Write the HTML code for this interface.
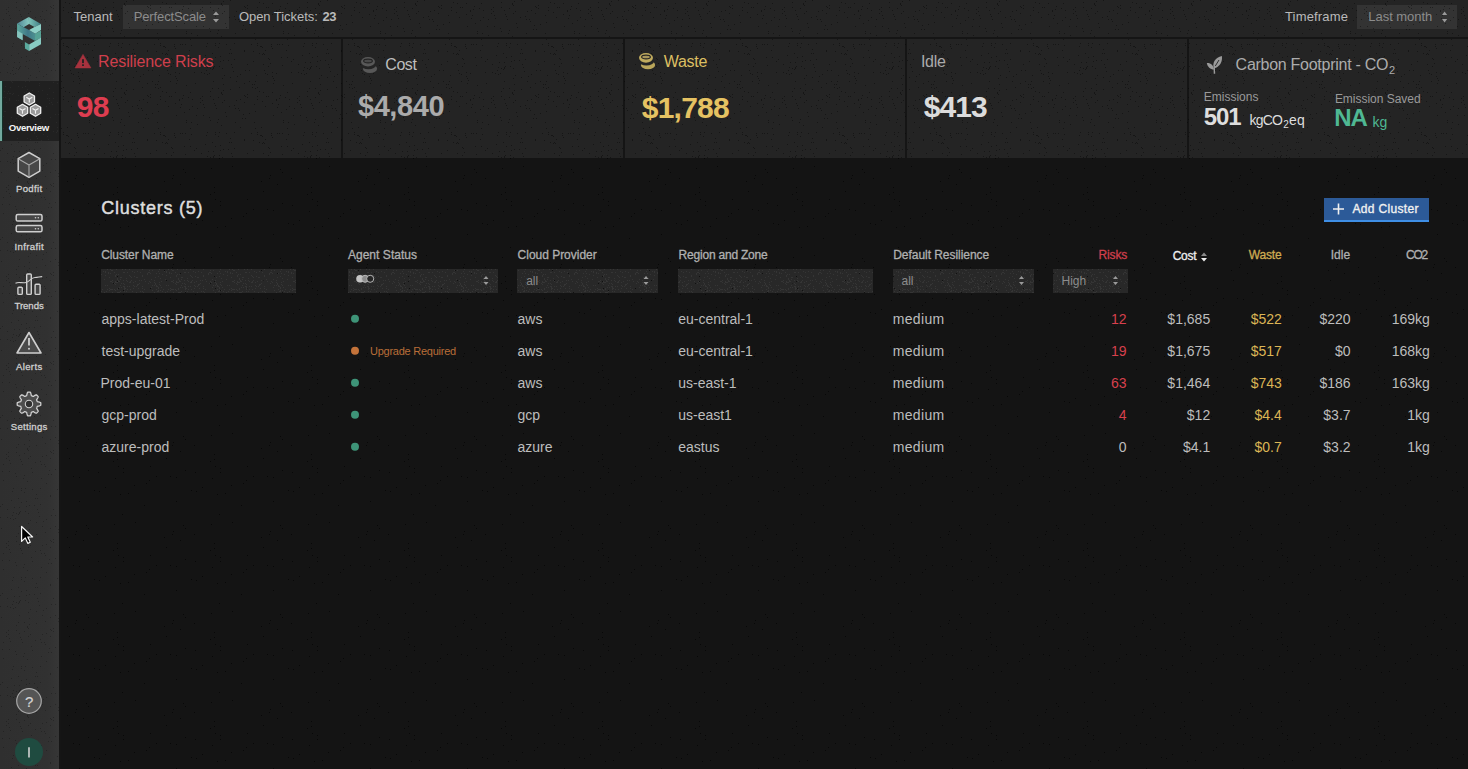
<!DOCTYPE html>
<html><head><meta charset="utf-8">
<style>
html,body{margin:0;padding:0;width:1468px;height:769px;overflow:hidden;background:#141414;font-family:"Liberation Sans",sans-serif;}
.t{position:absolute;white-space:nowrap;font-family:"Liberation Sans",sans-serif;}
.a{position:absolute;}
.side{left:0;top:0;width:59px;height:769px;background:linear-gradient(to right,#2f2f2f 0%,#313131 80%,#363636 100%);}
.sideb{left:59px;top:0;width:2px;height:769px;background:#151515;}
.top{left:61px;top:0;width:1407px;height:37px;background:#242424;}
.topb{left:61px;top:37px;width:1407px;height:2px;background:#151515;}
.card{top:39px;height:119px;background:#242424;}
.cardg{top:39px;width:2px;height:119px;background:#151515;}
.sel{background:#333333;}
.inp{background:#282828;}
</style></head><body>
<div class="a side"></div>
<div class="a sideb"></div>
<div class="a top"></div>
<div class="a topb"></div>
<div class="a card" style="left:61px;width:280px"></div>
<div class="a cardg" style="left:341px"></div>
<div class="a card" style="left:343px;width:280px"></div>
<div class="a cardg" style="left:623px"></div>
<div class="a card" style="left:625px;width:280px"></div>
<div class="a cardg" style="left:905px"></div>
<div class="a card" style="left:907px;width:280px"></div>
<div class="a cardg" style="left:1187px"></div>
<div class="a card" style="left:1189px;width:279px"></div>

<!-- top bar selects -->
<div class="a sel" style="left:123px;top:5px;width:106px;height:24px"></div>
<div class="a sel" style="left:1357px;top:5px;width:100px;height:24px"></div>

<!-- active nav -->
<div class="a" style="left:0;top:81px;width:59px;height:60px;background:#202020"></div>
<div class="a" style="left:0;top:81px;width:1.5px;height:60px;background:#72a99e"></div><div class="a" style="left:1.5px;top:81px;width:1px;height:60px;background:#123028"></div>

<!-- inputs -->
<div class="a inp" style="left:101px;top:269px;width:195px;height:24px"></div>
<div class="a inp" style="left:348px;top:269px;width:150px;height:24px"></div>
<div class="a inp" style="left:517px;top:269px;width:141px;height:24px"></div>
<div class="a inp" style="left:678px;top:269px;width:195px;height:24px"></div>
<div class="a inp" style="left:893px;top:269px;width:141px;height:24px"></div>
<div class="a inp" style="left:1053px;top:269px;width:75px;height:24px"></div>


<svg class="a" style="left:0;top:0" width="1468" height="769">
<defs>
<pattern id="nz" width="97" height="89" patternUnits="userSpaceOnUse"><path d="M41 19h1v1h-1zM50 83h1v1h-1zM6 9h1v1h-1zM68 12h1v1h-1zM46 74h1v1h-1zM7 64h1v1h-1zM27 4h1v1h-1zM11 55h1v1h-1zM53 8h1v1h-1zM30 11h1v1h-1zM70 54h1v1h-1zM7 72h1v1h-1zM15 28h1v1h-1zM80 80h1v1h-1zM74 7h1v1h-1zM73 74h1v1h-1zM50 6h1v1h-1zM28 5h1v1h-1zM71 17h1v1h-1zM37 53h1v1h-1zM18 69h1v1h-1zM15 73h1v1h-1zM39 71h1v1h-1zM87 23h1v1h-1zM13 74h1v1h-1zM73 81h1v1h-1zM24 47h1v1h-1zM12 70h1v1h-1zM91 8h1v1h-1zM72 7h1v1h-1zM79 26h1v1h-1zM63 87h1v1h-1zM68 54h1v1h-1zM40 59h1v1h-1zM74 58h1v1h-1zM46 38h1v1h-1zM31 23h1v1h-1zM89 31h1v1h-1zM10 73h1v1h-1zM38 67h1v1h-1zM63 43h1v1h-1zM93 57h1v1h-1zM36 77h1v1h-1zM9 15h1v1h-1zM65 53h1v1h-1zM21 43h1v1h-1zM19 62h1v1h-1zM53 5h1v1h-1zM85 9h1v1h-1zM71 73h1v1h-1zM40 43h1v1h-1zM88 44h1v1h-1zM76 63h1v1h-1zM74 58h1v1h-1zM8 11h1v1h-1zM34 60h1v1h-1zM89 85h1v1h-1zM8 7h1v1h-1zM93 39h1v1h-1zM82 73h1v1h-1zM87 57h1v1h-1zM36 49h1v1h-1zM85 44h1v1h-1zM2 59h1v1h-1zM45 21h1v1h-1zM78 14h1v1h-1zM63 7h1v1h-1zM27 36h1v1h-1zM16 31h1v1h-1zM50 50h1v1h-1zM63 10h1v1h-1zM21 57h1v1h-1zM51 70h1v1h-1zM35 17h1v1h-1zM55 70h1v1h-1zM35 53h1v1h-1zM45 87h1v1h-1zM48 29h1v1h-1zM19 10h1v1h-1zM22 19h1v1h-1zM29 84h1v1h-1zM29 1h1v1h-1zM62 75h1v1h-1zM23 33h1v1h-1zM36 0h1v1h-1zM18 53h1v1h-1zM68 47h1v1h-1zM78 72h1v1h-1zM40 16h1v1h-1zM88 65h1v1h-1zM79 83h1v1h-1zM86 6h1v1h-1zM58 87h1v1h-1zM71 50h1v1h-1zM50 51h1v1h-1zM50 13h1v1h-1zM61 81h1v1h-1zM51 7h1v1h-1zM24 8h1v1h-1zM26 56h1v1h-1zM20 14h1v1h-1zM43 76h1v1h-1zM6 13h1v1h-1zM0 72h1v1h-1zM19 68h1v1h-1zM12 46h1v1h-1zM78 3h1v1h-1zM9 26h1v1h-1zM78 48h1v1h-1zM19 81h1v1h-1zM32 44h1v1h-1zM77 46h1v1h-1zM60 15h1v1h-1zM14 62h1v1h-1zM59 61h1v1h-1zM61 39h1v1h-1zM10 18h1v1h-1zM13 43h1v1h-1zM94 33h1v1h-1zM61 88h1v1h-1zM20 66h1v1h-1zM2 26h1v1h-1zM67 46h1v1h-1zM18 88h1v1h-1zM69 3h1v1h-1zM67 38h1v1h-1zM82 11h1v1h-1zM89 33h1v1h-1zM66 46h1v1h-1zM21 45h1v1h-1zM28 68h1v1h-1zM69 64h1v1h-1zM42 81h1v1h-1zM28 78h1v1h-1zM24 30h1v1h-1zM51 29h1v1h-1zM25 66h1v1h-1zM63 45h1v1h-1zM93 3h1v1h-1zM3 35h1v1h-1zM60 33h1v1h-1zM24 88h1v1h-1zM77 44h1v1h-1zM57 44h1v1h-1zM46 10h1v1h-1zM28 13h1v1h-1zM29 60h1v1h-1zM25 43h1v1h-1zM26 61h1v1h-1zM79 78h1v1h-1zM0 61h1v1h-1zM83 44h1v1h-1zM82 10h1v1h-1zM84 15h1v1h-1zM49 25h1v1h-1zM61 22h1v1h-1zM55 81h1v1h-1zM42 11h1v1h-1zM92 50h1v1h-1zM59 51h1v1h-1zM95 10h1v1h-1zM92 20h1v1h-1zM21 16h1v1h-1zM3 19h1v1h-1zM75 59h1v1h-1zM83 18h1v1h-1zM78 76h1v1h-1zM60 84h1v1h-1zM44 19h1v1h-1zM70 70h1v1h-1zM16 2h1v1h-1zM1 83h1v1h-1zM13 67h1v1h-1zM95 17h1v1h-1zM55 24h1v1h-1zM27 3h1v1h-1zM32 27h1v1h-1zM37 64h1v1h-1zM30 75h1v1h-1zM41 33h1v1h-1zM69 53h1v1h-1zM16 7h1v1h-1zM94 45h1v1h-1zM58 84h1v1h-1zM74 66h1v1h-1zM53 64h1v1h-1zM16 68h1v1h-1zM19 67h1v1h-1zM65 2h1v1h-1z" fill="#000" fill-opacity="0.55"/></pattern>
<pattern id="nzl" width="97" height="89" patternUnits="userSpaceOnUse"><path d="M57 71h1v1h-1zM59 57h1v1h-1zM65 75h1v1h-1zM24 23h1v1h-1zM65 60h1v1h-1zM80 78h1v1h-1zM23 12h1v1h-1zM57 38h1v1h-1zM18 11h1v1h-1zM68 88h1v1h-1zM81 5h1v1h-1zM76 50h1v1h-1zM57 83h1v1h-1zM94 78h1v1h-1zM83 20h1v1h-1zM79 1h1v1h-1zM67 8h1v1h-1zM7 4h1v1h-1zM24 30h1v1h-1zM76 3h1v1h-1zM59 41h1v1h-1zM56 75h1v1h-1zM25 66h1v1h-1zM29 81h1v1h-1zM37 63h1v1h-1zM0 84h1v1h-1zM10 58h1v1h-1zM83 35h1v1h-1zM52 70h1v1h-1zM10 32h1v1h-1zM40 29h1v1h-1zM65 36h1v1h-1zM3 8h1v1h-1zM72 13h1v1h-1zM51 13h1v1h-1zM37 49h1v1h-1zM8 2h1v1h-1zM87 0h1v1h-1zM27 26h1v1h-1zM6 60h1v1h-1zM48 50h1v1h-1zM53 9h1v1h-1zM72 80h1v1h-1zM25 86h1v1h-1zM34 43h1v1h-1zM11 39h1v1h-1zM42 1h1v1h-1zM52 15h1v1h-1zM17 31h1v1h-1zM90 12h1v1h-1zM1 7h1v1h-1zM59 62h1v1h-1zM22 87h1v1h-1zM71 24h1v1h-1zM57 65h1v1h-1zM24 16h1v1h-1zM53 82h1v1h-1zM49 14h1v1h-1zM50 53h1v1h-1zM27 0h1v1h-1zM34 75h1v1h-1zM38 2h1v1h-1zM26 23h1v1h-1zM50 77h1v1h-1zM82 73h1v1h-1zM12 5h1v1h-1zM18 27h1v1h-1zM56 33h1v1h-1zM1 78h1v1h-1zM42 37h1v1h-1zM49 9h1v1h-1zM9 11h1v1h-1zM26 74h1v1h-1zM81 31h1v1h-1zM1 76h1v1h-1zM47 47h1v1h-1zM79 58h1v1h-1zM16 75h1v1h-1zM61 73h1v1h-1zM17 49h1v1h-1zM23 80h1v1h-1zM19 39h1v1h-1zM29 78h1v1h-1zM31 24h1v1h-1zM20 80h1v1h-1zM70 25h1v1h-1zM87 49h1v1h-1zM61 77h1v1h-1zM10 53h1v1h-1zM6 13h1v1h-1zM13 4h1v1h-1zM65 32h1v1h-1zM30 50h1v1h-1zM32 53h1v1h-1zM76 62h1v1h-1zM37 66h1v1h-1zM22 8h1v1h-1zM16 29h1v1h-1zM61 71h1v1h-1zM83 78h1v1h-1zM78 9h1v1h-1zM35 27h1v1h-1zM26 2h1v1h-1zM8 34h1v1h-1zM52 57h1v1h-1zM31 7h1v1h-1zM5 22h1v1h-1zM36 47h1v1h-1zM67 73h1v1h-1zM16 11h1v1h-1zM46 17h1v1h-1zM57 42h1v1h-1zM84 88h1v1h-1zM66 74h1v1h-1zM17 75h1v1h-1zM4 2h1v1h-1zM60 45h1v1h-1zM89 39h1v1h-1zM4 2h1v1h-1zM76 81h1v1h-1zM9 61h1v1h-1zM8 39h1v1h-1zM40 17h1v1h-1zM9 9h1v1h-1zM57 69h1v1h-1zM47 5h1v1h-1zM94 16h1v1h-1zM43 45h1v1h-1zM10 87h1v1h-1zM60 9h1v1h-1zM53 3h1v1h-1zM63 73h1v1h-1zM1 79h1v1h-1zM84 48h1v1h-1zM48 74h1v1h-1zM1 77h1v1h-1zM9 10h1v1h-1zM11 81h1v1h-1zM14 32h1v1h-1zM53 42h1v1h-1zM49 88h1v1h-1zM74 58h1v1h-1zM56 59h1v1h-1zM69 10h1v1h-1zM66 65h1v1h-1zM3 39h1v1h-1zM76 11h1v1h-1zM61 2h1v1h-1zM29 14h1v1h-1zM63 78h1v1h-1zM84 62h1v1h-1zM32 1h1v1h-1zM47 38h1v1h-1zM18 86h1v1h-1zM78 25h1v1h-1zM66 21h1v1h-1zM96 43h1v1h-1zM84 56h1v1h-1zM63 30h1v1h-1zM41 51h1v1h-1zM85 32h1v1h-1zM25 81h1v1h-1zM55 25h1v1h-1zM27 49h1v1h-1zM28 74h1v1h-1zM40 26h1v1h-1zM17 17h1v1h-1zM63 44h1v1h-1zM5 8h1v1h-1zM35 21h1v1h-1zM14 57h1v1h-1zM60 35h1v1h-1zM27 52h1v1h-1zM48 80h1v1h-1zM66 63h1v1h-1zM86 40h1v1h-1zM91 79h1v1h-1zM57 41h1v1h-1zM9 4h1v1h-1zM35 77h1v1h-1zM5 86h1v1h-1zM90 35h1v1h-1zM73 45h1v1h-1zM39 83h1v1h-1zM72 2h1v1h-1zM82 17h1v1h-1zM51 58h1v1h-1zM24 3h1v1h-1zM34 30h1v1h-1zM18 6h1v1h-1zM80 14h1v1h-1zM57 13h1v1h-1zM80 68h1v1h-1zM83 81h1v1h-1zM47 9h1v1h-1zM87 25h1v1h-1zM25 60h1v1h-1zM32 22h1v1h-1zM91 1h1v1h-1zM96 60h1v1h-1zM68 4h1v1h-1zM22 28h1v1h-1zM34 44h1v1h-1zM69 66h1v1h-1zM64 78h1v1h-1zM96 20h1v1h-1zM50 28h1v1h-1zM11 52h1v1h-1zM92 49h1v1h-1zM16 57h1v1h-1zM58 25h1v1h-1zM80 0h1v1h-1zM48 70h1v1h-1zM72 83h1v1h-1zM64 43h1v1h-1zM59 41h1v1h-1zM83 26h1v1h-1zM12 82h1v1h-1zM91 15h1v1h-1zM27 31h1v1h-1zM49 11h1v1h-1zM39 68h1v1h-1zM41 33h1v1h-1zM91 2h1v1h-1zM44 64h1v1h-1zM10 4h1v1h-1zM56 43h1v1h-1zM70 53h1v1h-1zM35 62h1v1h-1zM3 27h1v1h-1zM8 54h1v1h-1zM4 22h1v1h-1zM68 42h1v1h-1zM87 17h1v1h-1zM60 19h1v1h-1zM66 66h1v1h-1zM86 88h1v1h-1zM56 63h1v1h-1zM74 88h1v1h-1zM11 28h1v1h-1zM56 67h1v1h-1zM71 37h1v1h-1zM93 71h1v1h-1zM81 21h1v1h-1zM66 65h1v1h-1zM71 32h1v1h-1zM39 85h1v1h-1zM48 78h1v1h-1zM26 38h1v1h-1zM18 69h1v1h-1zM67 34h1v1h-1zM73 63h1v1h-1zM25 52h1v1h-1zM68 14h1v1h-1zM64 0h1v1h-1zM77 48h1v1h-1zM3 68h1v1h-1zM5 66h1v1h-1z" fill="#fff" fill-opacity="0.07"/></pattern>
<pattern id="nzs" width="97" height="89" patternUnits="userSpaceOnUse"><path d="M79 32h1v1h-1zM94 45h1v1h-1zM88 83h1v1h-1zM67 3h1v1h-1zM59 31h1v1h-1zM83 6h1v1h-1zM20 14h1v1h-1zM47 60h1v1h-1zM31 48h1v1h-1zM69 13h1v1h-1zM73 31h1v1h-1zM1 27h1v1h-1zM52 35h1v1h-1zM23 49h1v1h-1zM20 9h1v1h-1zM17 79h1v1h-1zM79 56h1v1h-1zM16 16h1v1h-1zM0 0h1v1h-1zM26 27h1v1h-1zM21 21h1v1h-1zM37 40h1v1h-1zM25 69h1v1h-1zM86 80h1v1h-1zM26 23h1v1h-1zM88 25h1v1h-1zM49 38h1v1h-1zM2 46h1v1h-1zM53 21h1v1h-1zM18 33h1v1h-1zM8 42h1v1h-1zM38 77h1v1h-1zM75 0h1v1h-1zM76 86h1v1h-1z" fill="#000" fill-opacity="0.6"/></pattern>
<pattern id="nzi" width="61" height="53" patternUnits="userSpaceOnUse"><path d="M15 37h1v1h-1zM34 8h1v1h-1zM23 38h1v1h-1zM30 40h1v1h-1zM37 4h1v1h-1zM38 0h1v1h-1zM58 30h1v1h-1zM16 35h1v1h-1zM14 12h1v1h-1zM45 30h1v1h-1zM34 35h1v1h-1zM30 25h1v1h-1zM40 9h1v1h-1zM14 40h1v1h-1zM9 33h1v1h-1zM24 47h1v1h-1zM0 42h1v1h-1zM49 4h1v1h-1zM10 48h1v1h-1zM37 2h1v1h-1zM19 49h1v1h-1zM1 52h1v1h-1zM55 17h1v1h-1zM30 38h1v1h-1zM46 24h1v1h-1zM45 50h1v1h-1zM58 27h1v1h-1zM25 46h1v1h-1zM51 36h1v1h-1zM28 8h1v1h-1zM56 23h1v1h-1zM6 2h1v1h-1zM8 31h1v1h-1zM13 16h1v1h-1zM43 27h1v1h-1zM49 40h1v1h-1zM54 19h1v1h-1zM26 32h1v1h-1zM53 24h1v1h-1zM36 22h1v1h-1zM34 37h1v1h-1zM26 37h1v1h-1zM14 21h1v1h-1zM43 1h1v1h-1zM54 17h1v1h-1zM38 42h1v1h-1zM44 10h1v1h-1zM44 20h1v1h-1zM34 36h1v1h-1zM36 6h1v1h-1zM45 41h1v1h-1zM13 40h1v1h-1zM53 36h1v1h-1zM17 18h1v1h-1zM7 4h1v1h-1zM30 40h1v1h-1zM30 5h1v1h-1zM22 51h1v1h-1zM4 26h1v1h-1zM57 9h1v1h-1zM1 18h1v1h-1zM27 49h1v1h-1zM26 7h1v1h-1zM2 38h1v1h-1zM39 48h1v1h-1zM2 24h1v1h-1zM45 37h1v1h-1zM21 35h1v1h-1zM56 17h1v1h-1zM32 15h1v1h-1zM2 19h1v1h-1zM0 4h1v1h-1zM6 38h1v1h-1zM34 2h1v1h-1zM60 12h1v1h-1zM26 18h1v1h-1zM39 16h1v1h-1zM9 44h1v1h-1zM2 21h1v1h-1zM20 23h1v1h-1zM8 24h1v1h-1zM24 29h1v1h-1zM55 33h1v1h-1zM24 41h1v1h-1zM55 38h1v1h-1zM43 35h1v1h-1zM6 39h1v1h-1zM60 51h1v1h-1zM32 17h1v1h-1zM27 40h1v1h-1zM46 45h1v1h-1zM15 19h1v1h-1zM27 16h1v1h-1zM33 19h1v1h-1zM35 21h1v1h-1zM0 50h1v1h-1zM26 37h1v1h-1zM20 1h1v1h-1zM24 39h1v1h-1zM37 40h1v1h-1zM8 3h1v1h-1zM40 40h1v1h-1zM21 29h1v1h-1zM22 43h1v1h-1zM58 22h1v1h-1zM38 45h1v1h-1zM17 47h1v1h-1zM31 1h1v1h-1zM37 3h1v1h-1zM43 1h1v1h-1zM23 16h1v1h-1zM40 29h1v1h-1zM19 37h1v1h-1zM38 20h1v1h-1zM11 23h1v1h-1zM11 20h1v1h-1zM48 23h1v1h-1zM54 38h1v1h-1zM16 19h1v1h-1zM50 24h1v1h-1zM6 49h1v1h-1zM52 1h1v1h-1zM36 43h1v1h-1zM47 8h1v1h-1zM19 32h1v1h-1zM14 41h1v1h-1zM51 17h1v1h-1zM15 20h1v1h-1zM11 43h1v1h-1zM27 41h1v1h-1zM44 6h1v1h-1zM6 38h1v1h-1zM20 21h1v1h-1zM43 14h1v1h-1zM28 51h1v1h-1zM54 10h1v1h-1zM5 21h1v1h-1zM47 41h1v1h-1zM13 36h1v1h-1zM28 17h1v1h-1zM14 50h1v1h-1zM7 2h1v1h-1zM33 12h1v1h-1zM20 51h1v1h-1zM53 36h1v1h-1zM11 17h1v1h-1zM21 51h1v1h-1zM52 41h1v1h-1zM5 51h1v1h-1zM39 22h1v1h-1zM37 8h1v1h-1zM26 18h1v1h-1zM33 50h1v1h-1zM54 17h1v1h-1zM29 22h1v1h-1zM40 26h1v1h-1zM18 26h1v1h-1zM36 26h1v1h-1zM2 26h1v1h-1zM9 12h1v1h-1zM0 30h1v1h-1zM60 39h1v1h-1zM32 27h1v1h-1zM35 45h1v1h-1zM14 2h1v1h-1zM47 29h1v1h-1zM53 48h1v1h-1zM42 47h1v1h-1zM33 18h1v1h-1zM34 21h1v1h-1zM56 14h1v1h-1zM55 4h1v1h-1zM54 37h1v1h-1zM18 7h1v1h-1zM51 15h1v1h-1zM2 2h1v1h-1zM57 51h1v1h-1zM44 32h1v1h-1zM59 12h1v1h-1zM57 27h1v1h-1zM36 3h1v1h-1zM0 30h1v1h-1zM47 7h1v1h-1zM10 32h1v1h-1zM19 15h1v1h-1zM42 1h1v1h-1zM33 34h1v1h-1zM26 3h1v1h-1zM60 39h1v1h-1zM7 21h1v1h-1zM8 16h1v1h-1zM55 34h1v1h-1zM30 51h1v1h-1zM50 3h1v1h-1zM22 14h1v1h-1zM12 7h1v1h-1zM34 52h1v1h-1zM7 10h1v1h-1zM15 50h1v1h-1zM17 51h1v1h-1zM8 52h1v1h-1zM58 0h1v1h-1zM31 40h1v1h-1zM36 25h1v1h-1zM3 48h1v1h-1zM17 15h1v1h-1zM17 39h1v1h-1zM33 33h1v1h-1zM27 3h1v1h-1zM30 20h1v1h-1zM49 52h1v1h-1zM0 3h1v1h-1zM49 8h1v1h-1zM2 7h1v1h-1zM3 4h1v1h-1zM30 2h1v1h-1zM54 45h1v1h-1zM5 32h1v1h-1zM32 31h1v1h-1zM20 10h1v1h-1zM20 4h1v1h-1zM22 24h1v1h-1zM41 24h1v1h-1zM37 19h1v1h-1zM23 16h1v1h-1zM12 21h1v1h-1zM27 7h1v1h-1zM8 35h1v1h-1zM0 45h1v1h-1zM46 24h1v1h-1zM50 5h1v1h-1zM36 11h1v1h-1zM2 23h1v1h-1zM29 38h1v1h-1zM41 50h1v1h-1zM34 24h1v1h-1zM40 51h1v1h-1zM2 39h1v1h-1zM56 27h1v1h-1zM3 23h1v1h-1zM40 31h1v1h-1zM48 44h1v1h-1zM20 26h1v1h-1zM60 44h1v1h-1zM26 29h1v1h-1zM1 15h1v1h-1zM13 34h1v1h-1zM17 44h1v1h-1zM37 4h1v1h-1zM51 27h1v1h-1zM14 27h1v1h-1zM8 1h1v1h-1zM59 20h1v1h-1zM23 35h1v1h-1zM50 16h1v1h-1zM7 29h1v1h-1zM44 7h1v1h-1zM60 52h1v1h-1zM46 42h1v1h-1zM54 33h1v1h-1zM50 24h1v1h-1zM42 6h1v1h-1zM46 20h1v1h-1zM36 34h1v1h-1zM6 51h1v1h-1zM37 45h1v1h-1zM0 30h1v1h-1zM9 15h1v1h-1zM49 24h1v1h-1zM2 33h1v1h-1zM5 36h1v1h-1zM6 42h1v1h-1zM56 24h1v1h-1zM11 52h1v1h-1zM1 21h1v1h-1zM53 7h1v1h-1zM1 7h1v1h-1zM43 30h1v1h-1zM53 44h1v1h-1zM60 18h1v1h-1zM37 19h1v1h-1zM51 5h1v1h-1zM2 49h1v1h-1zM36 32h1v1h-1zM33 45h1v1h-1zM15 6h1v1h-1zM35 47h1v1h-1zM6 35h1v1h-1zM3 35h1v1h-1zM20 36h1v1h-1zM11 52h1v1h-1zM4 15h1v1h-1zM11 41h1v1h-1zM15 29h1v1h-1zM39 44h1v1h-1zM48 25h1v1h-1zM16 23h1v1h-1zM38 25h1v1h-1zM60 22h1v1h-1zM35 26h1v1h-1zM5 24h1v1h-1zM32 15h1v1h-1zM59 26h1v1h-1zM53 47h1v1h-1zM10 26h1v1h-1zM44 36h1v1h-1zM48 37h1v1h-1zM43 33h1v1h-1zM43 30h1v1h-1zM9 41h1v1h-1zM25 9h1v1h-1zM10 6h1v1h-1zM31 47h1v1h-1zM30 44h1v1h-1zM33 28h1v1h-1zM37 46h1v1h-1zM54 11h1v1h-1zM8 17h1v1h-1zM48 12h1v1h-1zM9 37h1v1h-1zM32 20h1v1h-1zM59 14h1v1h-1zM54 44h1v1h-1zM34 49h1v1h-1zM18 42h1v1h-1zM45 26h1v1h-1zM38 37h1v1h-1zM37 17h1v1h-1zM56 13h1v1h-1zM19 1h1v1h-1zM17 30h1v1h-1zM51 24h1v1h-1zM12 11h1v1h-1zM36 23h1v1h-1zM15 20h1v1h-1zM30 49h1v1h-1zM55 9h1v1h-1zM26 44h1v1h-1zM30 44h1v1h-1zM38 13h1v1h-1zM29 37h1v1h-1zM53 52h1v1h-1zM41 35h1v1h-1zM1 30h1v1h-1zM46 4h1v1h-1zM54 25h1v1h-1zM50 46h1v1h-1zM56 2h1v1h-1zM29 14h1v1h-1zM57 15h1v1h-1zM41 45h1v1h-1zM49 43h1v1h-1zM4 13h1v1h-1zM54 16h1v1h-1zM15 12h1v1h-1zM49 16h1v1h-1zM8 11h1v1h-1zM39 45h1v1h-1zM43 2h1v1h-1zM57 16h1v1h-1zM10 2h1v1h-1zM20 11h1v1h-1zM27 5h1v1h-1zM46 51h1v1h-1zM5 7h1v1h-1zM5 16h1v1h-1zM53 18h1v1h-1zM2 22h1v1h-1zM28 37h1v1h-1zM46 43h1v1h-1zM21 0h1v1h-1zM1 21h1v1h-1zM21 27h1v1h-1zM24 31h1v1h-1zM4 13h1v1h-1zM41 37h1v1h-1zM47 31h1v1h-1zM25 8h1v1h-1zM34 20h1v1h-1zM7 17h1v1h-1zM4 42h1v1h-1zM27 7h1v1h-1zM28 33h1v1h-1zM58 16h1v1h-1zM6 33h1v1h-1zM60 44h1v1h-1zM23 43h1v1h-1z" fill="#fff" fill-opacity="0.06"/></pattern>
</defs>
<rect x="0" y="0" width="59" height="81" fill="url(#nz)" opacity="0.45"/>
<rect x="0" y="141" width="59" height="628" fill="url(#nz)" opacity="0.45"/>
<rect x="2" y="81" width="57" height="60" fill="url(#nzl)" opacity="0.6"/>
<rect x="61" y="0" width="1407" height="37" fill="url(#nz)" opacity="0.7"/>
<rect x="61" y="39" width="1407" height="119" fill="url(#nz)" opacity="0.7"/>
<rect x="61" y="158" width="1407" height="611" fill="url(#nzs)"/>
<g fill="url(#nzi)">
<rect x="101" y="269" width="195" height="24"/><rect x="348" y="269" width="150" height="24"/><rect x="517" y="269" width="141" height="24"/>
<rect x="678" y="269" width="195" height="24"/><rect x="893" y="269" width="141" height="24"/><rect x="1053" y="269" width="75" height="24"/>
</g>
</svg>
<div class="a" style="left:1324px;top:198px;width:105px;height:22px;background:#2c5a98;border-bottom:2px solid #3f8fe6"></div>
<svg class="a" style="left:0;top:0" width="1468" height="769">
  <!-- logo -->
  <defs>
    <linearGradient id="spg" x1="0" y1="0" x2="1" y2="0">
      <stop offset="0" stop-color="#5ca99e"/><stop offset="0.45" stop-color="#3f7887"/><stop offset="1" stop-color="#58a598"/>
    </linearGradient>
    <linearGradient id="tlg" x1="0" y1="0" x2="1" y2="0">
      <stop offset="0" stop-color="#4f8595"/><stop offset="1" stop-color="#86c8bf"/>
    </linearGradient>
    <linearGradient id="trg" x1="0" y1="0" x2="1" y2="0">
      <stop offset="0" stop-color="#7dc3b9"/><stop offset="1" stop-color="#3f7d84"/>
    </linearGradient>
  </defs>
  <g>
    <polygon points="17.1,23.6 28.8,17.1 29.1,23.9 23.6,27.3" fill="url(#tlg)"/>
    <polygon points="28.8,17.1 41,23.9 34.5,27 29.1,23.9" fill="url(#trg)"/>
    <polygon points="17.1,23.6 23.6,27.3 29.1,30.1 35.3,33.8 41,30.8 41,37.4 34.8,40.8 22.6,34 22.6,40.3 17.1,37.1" fill="url(#spg)"/>
    <polygon points="17.1,30.6 22.6,33.8 22.6,40.3 17.1,37.1" fill="#86c4bd"/>
    <polygon points="34.5,27 41,23.9 41,30.1 35.3,33.8 29.1,30.1" fill="#8ccfc6"/>
    <polygon points="35.3,33.8 41,30.6 41,37.4 34.8,40.8" fill="#56a295"/>
    <polygon points="24.9,42.1 29.1,44.6 29.1,50.9 24.9,48.6" fill="#5aa99d"/>
    <polygon points="29.1,44.6 41,37.6 41,44.2 29.1,50.9" fill="#88cbc2"/>
  </g>
  <!-- overview icon -->
  <g stroke="#f0f0f0" stroke-width="1.3" fill="#9a9a9a" stroke-linejoin="round">
    <path d="M29.3 93 L34.5 96 L34.5 102 L29.3 105 L24.1 102 L24.1 96 Z"/>
    <path d="M22.5 104.3 L27.7 107.3 L27.7 113.3 L22.5 116.3 L17.3 113.3 L17.3 107.3 Z"/>
    <path d="M35.5 104.3 L40.7 107.3 L40.7 113.3 L35.5 116.3 L30.3 113.3 L30.3 107.3 Z"/>
  </g>
  <g stroke="#f0f0f0" stroke-width="1.1" fill="none">
    <path d="M26.3 97.3 L29.3 99 L32.3 97.3 M29.3 99 V102.5"/>
    <path d="M19.5 108.6 L22.5 110.3 L25.5 108.6 M22.5 110.3 V113.8"/>
    <path d="M32.5 108.6 L35.5 110.3 L38.5 108.6 M35.5 110.3 V113.8"/>
  </g>
  <!-- podfit cube -->
  <g stroke="#cfcfcf" stroke-width="1.5" stroke-linejoin="round">
    <path d="M29 152.5 L39.8 158.7 L39.8 171.1 L29 177.3 L18.2 171.1 L18.2 158.7 Z" fill="#474747"/>
    <path d="M18.6 159 L29 165 L39.4 159 M29 165 V176.8" fill="none" stroke-width="1.1" stroke="#a8a8a8"/>
  </g>
  <!-- infrafit servers -->
  <g stroke="#cfcfcf" stroke-width="1.5" fill="#464646">
    <rect x="16.2" y="214.4" width="25.8" height="6.6" rx="1.6"/>
    <rect x="16.2" y="225.6" width="25.8" height="6.2" rx="1.6"/>
  </g>
  <g fill="#cfcfcf">
    <circle cx="35.5" cy="217.7" r="0.8"/><circle cx="38.3" cy="217.7" r="0.8"/>
    <circle cx="35.5" cy="228.7" r="0.8"/><circle cx="38.3" cy="228.7" r="0.8"/>
  </g>
  <!-- trends -->
  <g stroke="#cfcfcf" stroke-width="1.4" fill="#464646">
    <rect x="17.9" y="287.2" width="4.4" height="7.2" rx="1"/>
    <rect x="26.7" y="274" width="4.6" height="20.4" rx="1"/>
    <rect x="35.1" y="284.3" width="5" height="10.1" rx="1"/>
  </g>
  <path d="M15.5 283.2 C19 281.5, 22 283.5, 26 282.5 C30 281.5, 31 277.5, 35 277.5 C38 277.5, 40 276.5, 42.2 276.6" stroke="#cfcfcf" stroke-width="1.1" fill="none"/>
  <!-- alerts -->
  <path d="M29 332.5 L41 353 L17 353 Z" fill="#4a4a4a" stroke="#cfcfcf" stroke-width="1.6" stroke-linejoin="round"/>
  <path d="M29 338 V345.5" stroke="#cfcfcf" stroke-width="1.8"/>
  <circle cx="29" cy="348.8" r="1" fill="#cfcfcf"/>
  <!-- settings gear -->
  <path d="M40.80 404.00 L40.80 404.31 L40.78 404.62 L40.76 404.93 L40.74 405.23 L40.46 405.51 L39.90 405.73 L39.31 405.91 L38.70 406.06 L38.10 406.18 L37.54 406.29 L37.25 406.44 L37.18 406.66 L37.11 406.87 L37.03 407.08 L36.95 407.29 L36.86 407.50 L36.76 407.70 L36.66 407.90 L36.56 408.10 L36.66 408.42 L36.98 408.89 L37.32 409.40 L37.64 409.94 L37.93 410.49 L38.17 411.04 L38.17 411.43 L37.97 411.66 L37.77 411.90 L37.56 412.12 L37.34 412.34 L37.12 412.56 L36.90 412.77 L36.66 412.97 L36.43 413.17 L36.04 413.17 L35.49 412.93 L34.94 412.64 L34.40 412.32 L33.89 411.98 L33.42 411.66 L33.10 411.56 L32.90 411.66 L32.70 411.76 L32.50 411.86 L32.29 411.95 L32.08 412.03 L31.87 412.11 L31.66 412.18 L31.44 412.25 L31.29 412.54 L31.18 413.10 L31.06 413.70 L30.91 414.31 L30.73 414.90 L30.51 415.46 L30.23 415.74 L29.93 415.76 L29.62 415.78 L29.31 415.80 L29.00 415.80 L28.69 415.80 L28.38 415.78 L28.07 415.76 L27.77 415.74 L27.49 415.46 L27.27 414.90 L27.09 414.31 L26.94 413.70 L26.82 413.10 L26.71 412.54 L26.56 412.25 L26.34 412.18 L26.13 412.11 L25.92 412.03 L25.71 411.95 L25.50 411.86 L25.30 411.76 L25.10 411.66 L24.90 411.56 L24.58 411.66 L24.11 411.98 L23.60 412.32 L23.06 412.64 L22.51 412.93 L21.96 413.17 L21.57 413.17 L21.34 412.97 L21.10 412.77 L20.88 412.56 L20.66 412.34 L20.44 412.12 L20.23 411.90 L20.03 411.66 L19.83 411.43 L19.83 411.04 L20.07 410.49 L20.36 409.94 L20.68 409.40 L21.02 408.89 L21.34 408.42 L21.44 408.10 L21.34 407.90 L21.24 407.70 L21.14 407.50 L21.05 407.29 L20.97 407.08 L20.89 406.87 L20.82 406.66 L20.75 406.44 L20.46 406.29 L19.90 406.18 L19.30 406.06 L18.69 405.91 L18.10 405.73 L17.54 405.51 L17.26 405.23 L17.24 404.93 L17.22 404.62 L17.20 404.31 L17.20 404.00 L17.20 403.69 L17.22 403.38 L17.24 403.07 L17.26 402.77 L17.54 402.49 L18.10 402.27 L18.69 402.09 L19.30 401.94 L19.90 401.82 L20.46 401.71 L20.75 401.56 L20.82 401.34 L20.89 401.13 L20.97 400.92 L21.05 400.71 L21.14 400.50 L21.24 400.30 L21.34 400.10 L21.44 399.90 L21.34 399.58 L21.02 399.11 L20.68 398.60 L20.36 398.06 L20.07 397.51 L19.83 396.96 L19.83 396.57 L20.03 396.34 L20.23 396.10 L20.44 395.88 L20.66 395.66 L20.88 395.44 L21.10 395.23 L21.34 395.03 L21.57 394.83 L21.96 394.83 L22.51 395.07 L23.06 395.36 L23.60 395.68 L24.11 396.02 L24.58 396.34 L24.90 396.44 L25.10 396.34 L25.30 396.24 L25.50 396.14 L25.71 396.05 L25.92 395.97 L26.13 395.89 L26.34 395.82 L26.56 395.75 L26.71 395.46 L26.82 394.90 L26.94 394.30 L27.09 393.69 L27.27 393.10 L27.49 392.54 L27.77 392.26 L28.07 392.24 L28.38 392.22 L28.69 392.20 L29.00 392.20 L29.31 392.20 L29.62 392.22 L29.93 392.24 L30.23 392.26 L30.51 392.54 L30.73 393.10 L30.91 393.69 L31.06 394.30 L31.18 394.90 L31.29 395.46 L31.44 395.75 L31.66 395.82 L31.87 395.89 L32.08 395.97 L32.29 396.05 L32.50 396.14 L32.70 396.24 L32.90 396.34 L33.10 396.44 L33.42 396.34 L33.89 396.02 L34.40 395.68 L34.94 395.36 L35.49 395.07 L36.04 394.83 L36.43 394.83 L36.66 395.03 L36.90 395.23 L37.12 395.44 L37.34 395.66 L37.56 395.88 L37.77 396.10 L37.97 396.34 L38.17 396.57 L38.17 396.96 L37.93 397.51 L37.64 398.06 L37.32 398.60 L36.98 399.11 L36.66 399.58 L36.56 399.90 L36.66 400.10 L36.76 400.30 L36.86 400.50 L36.95 400.71 L37.03 400.92 L37.11 401.13 L37.18 401.34 L37.25 401.56 L37.54 401.71 L38.10 401.82 L38.70 401.94 L39.31 402.09 L39.90 402.27 L40.46 402.49 L40.74 402.77 L40.76 403.07 L40.78 403.38 L40.80 403.69 Z" fill="#4d4d4d" stroke="#d0d0d0" stroke-width="1.3" stroke-linejoin="round"/>
  <circle cx="29" cy="404" r="3.7" fill="#303030" stroke="#d0d0d0" stroke-width="1.1"/>
  <!-- help -->
  <circle cx="29" cy="701" r="12.3" fill="#555555" stroke="#a6a6a6" stroke-width="1.2"/>
  <!-- avatar -->
  <circle cx="29" cy="752" r="14" fill="#1f4b40"/>
  <path d="M29 747.3 V757.6" stroke="#d2d2d2" stroke-width="1.6"/>
  <!-- cursor -->
  <path d="M21.6 526.5 L21.6 541.4 L25.3 537.9 L27.9 543.4 L30.3 542.3 L27.8 537 L32.6 537 Z" fill="#000" stroke="#f4f4f4" stroke-width="1.2" stroke-linejoin="round"/>
  <!-- warning triangle -->
  <path d="M83 54.4 L90.9 67.9 L75.1 67.9 Z" fill="#a8323e" stroke="#a8323e" stroke-width="0.6" stroke-linejoin="round"/>
  <rect x="82.1" y="59.2" width="1.8" height="3.9" fill="#222"/>
  <rect x="82.1" y="64.3" width="1.8" height="1.7" fill="#222"/>
  <!-- cost coins -->
  <g transform="translate(361,57)">
    <ellipse cx="9" cy="11.7" rx="7.1" ry="4.4" fill="#585858"/>
    <ellipse cx="7.4" cy="8.0" rx="7.6" ry="4.3" fill="#242424"/>
    <ellipse cx="7" cy="4.7" rx="7" ry="4.7" fill="#585858"/>
    <ellipse cx="7" cy="4" rx="4.4" ry="1.9" fill="#4a4a4a" stroke="#242424" stroke-width="1.1"/>
  </g>
  <g transform="translate(639,53)">
    <ellipse cx="9" cy="11.9" rx="7.1" ry="4.4" fill="#b9a55a"/>
    <ellipse cx="7.4" cy="8.2" rx="7.6" ry="4.3" fill="#242424"/>
    <ellipse cx="7" cy="4.85" rx="7" ry="4.85" fill="#c0ab5e"/>
    <ellipse cx="7" cy="4" rx="4.4" ry="1.9" fill="#a8965a" stroke="#242424" stroke-width="1.1"/>
  </g>
  <!-- leaf -->
  <g fill="#9a9a9a">
    <path d="M1213.6 67.8 C1212.4 62.2, 1215.2 57.4, 1221.9 55.9 C1222.6 61.3, 1220.2 66.2, 1214.6 68.2 Z"/>
    <path d="M1206.8 63.1 C1210.6 62.8, 1213.6 65.2, 1214 69.6 C1210.2 69.6, 1207.6 67.2, 1206.8 63.1 Z"/>
    <path d="M1213.6 67.5 L1213.7 73.8 L1215.2 73.8 L1214.9 67.5 Z"/>
  </g>
  <path d="M1215.3 66 L1219 60" stroke="#222" stroke-width="0.9"/>

  <!-- select arrows -->
  <g fill="#9a9a9a">
    <path d="M213 15 L216 11.5 L219 15 Z M213 19 L216 22.5 L219 19 Z"/>
    <path d="M1442 15 L1444.6 11.5 L1447.2 15 Z M1442 19 L1444.6 22.5 L1447.2 19 Z"/>
    <path d="M483.5 279 L486 276 L488.5 279 Z M483.5 282 L486 285 L488.5 282 Z"/>
    <path d="M643.5 279 L646 276 L648.5 279 Z M643.5 282 L646 285 L648.5 282 Z"/>
    <path d="M1019 279 L1021.5 276 L1024 279 Z M1019 282 L1021.5 285 L1024 282 Z"/>
    <path d="M1113 279 L1115.5 276 L1118 279 Z M1113 282 L1115.5 285 L1118 282 Z"/>
  </g>
  <!-- cost sort arrows -->
  <path d="M1201 256 L1204 252.5 L1207 256 Z" fill="#8a8a8a"/><path d="M1201 258 L1204 261.5 L1207 258 Z" fill="#efefef"/>
  <!-- agent status circles -->
  <circle cx="360" cy="278.8" r="3.8" fill="#c4c4c4"/>
  <circle cx="365.1" cy="278.8" r="3.55" fill="#8c8c8c" stroke="#c4c4c4" stroke-width="0.9"/>
  <circle cx="370.2" cy="278.8" r="3.55" fill="#262626" stroke="#c4c4c4" stroke-width="0.9"/>
  <!-- plus in button -->
  <path d="M1338.5 203.5 V214.5 M1333 209 H1344" stroke="#f0f0f0" stroke-width="1.6"/>
  <!-- status dots -->
  <g fill="#3e9478">
    <circle cx="355" cy="318.7" r="4"/>
    <circle cx="355" cy="382.7" r="4"/>
    <circle cx="355" cy="414.7" r="4"/>
    <circle cx="355" cy="446.7" r="4"/>
  </g>
  <circle cx="355" cy="350.7" r="4" fill="#c4733a"/>
</svg>
<div class="t" style="left:73.40px;top:10.25px;font-size:13px;line-height:13px;font-weight:400;color:#bababa;letter-spacing:0.036px;">Tenant</div>
<div class="t" style="left:133.70px;top:10.25px;font-size:13px;line-height:13px;font-weight:400;color:#8c8c8c;letter-spacing:-0.125px;">PerfectScale</div>
<div class="t" style="left:238.90px;top:10.25px;font-size:13px;line-height:13px;font-weight:400;color:#bababa;letter-spacing:-0.050px;">Open Tickets:</div>
<div class="t" style="left:322.50px;top:10.25px;font-size:13px;line-height:13px;font-weight:700;color:#bababa;letter-spacing:-0.430px;">23</div>
<div class="t" style="left:1285.00px;top:10.15px;font-size:13px;line-height:13px;font-weight:400;color:#bababa;letter-spacing:0.162px;">Timeframe</div>
<div class="t" style="left:1368.30px;top:10.15px;font-size:13px;line-height:13px;font-weight:400;color:#8c8c8c;letter-spacing:-0.032px;">Last month</div>
<div class="t" style="left:98.10px;top:54.40px;font-size:16px;line-height:16px;font-weight:400;color:#cf3f4c;letter-spacing:-0.124px;">Resilience Risks</div>
<div class="t" style="left:76.80px;top:92.30px;font-size:30px;line-height:30px;font-weight:700;color:#dd3d50;letter-spacing:-0.785px;">98</div>
<div class="t" style="left:385.30px;top:56.90px;font-size:16px;line-height:16px;font-weight:400;color:#bdbdbd;letter-spacing:-0.451px;">Cost</div>
<div class="t" style="left:357.90px;top:91.55px;font-size:29px;line-height:29px;font-weight:700;color:#ababab;letter-spacing:-0.394px;">$4,840</div>
<div class="t" style="left:663.70px;top:54.40px;font-size:16px;line-height:16px;font-weight:400;color:#dcbf62;letter-spacing:-0.288px;">Waste</div>
<div class="t" style="left:641.80px;top:93.30px;font-size:30px;line-height:30px;font-weight:700;color:#e5c262;letter-spacing:-0.775px;">$1,788</div>
<div class="t" style="left:920.90px;top:54.40px;font-size:16px;line-height:16px;font-weight:400;color:#ababab;letter-spacing:-0.233px;">Idle</div>
<div class="t" style="left:923.80px;top:92.30px;font-size:30px;line-height:30px;font-weight:700;color:#dcdcdc;letter-spacing:-0.918px;">$413</div>
<div class="t" style="left:1203.80px;top:90.60px;font-size:12px;line-height:12px;font-weight:400;color:#9a9a9a;letter-spacing:-0.010px;">Emissions</div>
<div class="t" style="left:1203.80px;top:104.80px;font-size:24px;line-height:24px;font-weight:700;color:#dedede;letter-spacing:-1.148px;">501</div>
<div class="t" style="left:1334.90px;top:92.50px;font-size:12px;line-height:12px;font-weight:400;color:#9a9a9a;letter-spacing:-0.028px;">Emission Saved</div>
<div class="t" style="left:1334.30px;top:106.40px;font-size:24px;line-height:24px;font-weight:700;color:#4fb893;letter-spacing:-1.032px;">NA</div>
<div class="t" style="left:1372.40px;top:114.90px;font-size:14px;line-height:14px;font-weight:400;color:#4fb893;letter-spacing:0.200px;">kg</div>
<div class="t" style="left:1235.60px;top:56.90px;font-size:16px;line-height:16px;font-weight:400;color:#acacac;letter-spacing:-0.272px;">Carbon Footprint - CO</div>
<div class="t" style="left:1389.10px;top:64.65px;font-size:11px;line-height:11px;font-weight:400;color:#acacac;letter-spacing:0.000px;">2</div>
<div class="t" style="left:1249.60px;top:113.30px;font-size:14px;line-height:14px;font-weight:400;color:#dedede;letter-spacing:-0.865px;">kgCO</div>
<div class="t" style="left:1283.30px;top:120.10px;font-size:10px;line-height:10px;font-weight:400;color:#dedede;letter-spacing:0.000px;">2</div>
<div class="t" style="left:1289.00px;top:113.30px;font-size:14px;line-height:14px;font-weight:400;color:#dedede;letter-spacing:0.114px;">eq</div>
<div class="t" style="left:25.00px;top:693.75px;font-size:15px;line-height:15px;font-weight:400;color:#d4d4d4;letter-spacing:0.000px;-webkit-text-stroke:0.2px #d4d4d4;">?</div>
<div class="t" style="left:101.20px;top:199.10px;font-size:18px;line-height:18px;font-weight:400;color:#dedede;letter-spacing:0.762px;-webkit-text-stroke:0.45px #dedede;">Clusters (5)</div>
<div class="t" style="left:101.20px;top:248.70px;font-size:12px;line-height:12px;font-weight:400;color:#b0b0b0;letter-spacing:-0.089px;-webkit-text-stroke:0.3px #b0b0b0;">Cluster Name</div>
<div class="t" style="left:347.90px;top:248.70px;font-size:12px;line-height:12px;font-weight:400;color:#b0b0b0;letter-spacing:0.044px;-webkit-text-stroke:0.3px #b0b0b0;">Agent Status</div>
<div class="t" style="left:517.60px;top:248.70px;font-size:12px;line-height:12px;font-weight:400;color:#b0b0b0;letter-spacing:-0.021px;-webkit-text-stroke:0.3px #b0b0b0;">Cloud Provider</div>
<div class="t" style="left:678.60px;top:248.70px;font-size:12px;line-height:12px;font-weight:400;color:#b0b0b0;letter-spacing:-0.214px;-webkit-text-stroke:0.3px #b0b0b0;">Region and Zone</div>
<div class="t" style="left:893.20px;top:248.70px;font-size:12px;line-height:12px;font-weight:400;color:#b0b0b0;letter-spacing:-0.038px;-webkit-text-stroke:0.3px #b0b0b0;">Default Resilience</div>
<div class="t" style="left:1098.40px;top:248.70px;font-size:12px;line-height:12px;font-weight:400;color:#cf3f4c;letter-spacing:-0.108px;-webkit-text-stroke:0.3px #cf3f4c;">Risks</div>
<div class="t" style="left:1172.70px;top:249.50px;font-size:12px;line-height:12px;font-weight:400;color:#efefef;letter-spacing:-0.280px;-webkit-text-stroke:0.3px #efefef;">Cost</div>
<div class="t" style="left:1248.70px;top:248.70px;font-size:12px;line-height:12px;font-weight:400;color:#cdab52;letter-spacing:-0.147px;-webkit-text-stroke:0.3px #cdab52;">Waste</div>
<div class="t" style="left:1330.70px;top:248.70px;font-size:12px;line-height:12px;font-weight:400;color:#b0b0b0;letter-spacing:0.042px;-webkit-text-stroke:0.3px #b0b0b0;">Idle</div>
<div class="t" style="left:1406.00px;top:248.70px;font-size:12px;line-height:12px;font-weight:400;color:#b0b0b0;letter-spacing:-1.200px;-webkit-text-stroke:0.3px #b0b0b0;">CO2</div>
<div class="t" style="left:1352.50px;top:202.70px;font-size:12px;line-height:12px;font-weight:400;color:#f0f0f0;letter-spacing:0.320px;-webkit-text-stroke:0.35px #f0f0f0;">Add Cluster</div>
<div class="t" style="left:526.20px;top:275.10px;font-size:12px;line-height:12px;font-weight:400;color:#8c8c8c;letter-spacing:0.000px;">all</div>
<div class="t" style="left:901.50px;top:275.10px;font-size:12px;line-height:12px;font-weight:400;color:#8c8c8c;letter-spacing:0.000px;">all</div>
<div class="t" style="left:1061.50px;top:275.10px;font-size:12px;line-height:12px;font-weight:400;color:#8c8c8c;letter-spacing:0.000px;">High</div>
<div class="t" style="left:101.50px;top:311.60px;font-size:14px;line-height:14px;font-weight:400;color:#bdbdbd;letter-spacing:0.000px;">apps-latest-Prod</div>
<div class="t" style="left:517.50px;top:311.60px;font-size:14px;line-height:14px;font-weight:400;color:#bdbdbd;letter-spacing:0.000px;">aws</div>
<div class="t" style="left:678.20px;top:311.60px;font-size:14px;line-height:14px;font-weight:400;color:#bdbdbd;letter-spacing:0.000px;">eu-central-1</div>
<div class="t" style="left:892.80px;top:311.60px;font-size:14px;line-height:14px;font-weight:400;color:#bdbdbd;letter-spacing:0.314px;">medium</div>
<div class="t" style="left:1111.01px;top:311.60px;font-size:14px;line-height:14px;font-weight:400;color:#d8404d;letter-spacing:0.000px;">12</div>
<div class="t" style="left:1167.37px;top:311.60px;font-size:14px;line-height:14px;font-weight:400;color:#bdbdbd;letter-spacing:0.000px;">$1,685</div>
<div class="t" style="left:1250.64px;top:311.60px;font-size:14px;line-height:14px;font-weight:400;color:#dcb555;letter-spacing:0.000px;">$522</div>
<div class="t" style="left:1319.44px;top:311.60px;font-size:14px;line-height:14px;font-weight:400;color:#bdbdbd;letter-spacing:0.000px;">$220</div>
<div class="t" style="left:1391.64px;top:311.60px;font-size:14px;line-height:14px;font-weight:400;color:#bdbdbd;letter-spacing:0.000px;">169kg</div>
<div class="t" style="left:101.50px;top:343.60px;font-size:14px;line-height:14px;font-weight:400;color:#bdbdbd;letter-spacing:0.000px;">test-upgrade</div>
<div class="t" style="left:370.00px;top:346.15px;font-size:11px;line-height:11px;font-weight:400;color:#b96e38;letter-spacing:-0.245px;">Upgrade Required</div>
<div class="t" style="left:517.50px;top:343.60px;font-size:14px;line-height:14px;font-weight:400;color:#bdbdbd;letter-spacing:0.000px;">aws</div>
<div class="t" style="left:678.20px;top:343.60px;font-size:14px;line-height:14px;font-weight:400;color:#bdbdbd;letter-spacing:0.000px;">eu-central-1</div>
<div class="t" style="left:892.80px;top:343.60px;font-size:14px;line-height:14px;font-weight:400;color:#bdbdbd;letter-spacing:0.314px;">medium</div>
<div class="t" style="left:1111.01px;top:343.60px;font-size:14px;line-height:14px;font-weight:400;color:#d8404d;letter-spacing:0.000px;">19</div>
<div class="t" style="left:1167.37px;top:343.60px;font-size:14px;line-height:14px;font-weight:400;color:#bdbdbd;letter-spacing:0.000px;">$1,675</div>
<div class="t" style="left:1250.64px;top:343.60px;font-size:14px;line-height:14px;font-weight:400;color:#dcb555;letter-spacing:0.000px;">$517</div>
<div class="t" style="left:1335.01px;top:343.60px;font-size:14px;line-height:14px;font-weight:400;color:#bdbdbd;letter-spacing:0.000px;">$0</div>
<div class="t" style="left:1391.64px;top:343.60px;font-size:14px;line-height:14px;font-weight:400;color:#bdbdbd;letter-spacing:0.000px;">168kg</div>
<div class="t" style="left:100.50px;top:375.60px;font-size:14px;line-height:14px;font-weight:400;color:#bdbdbd;letter-spacing:0.000px;">Prod-eu-01</div>
<div class="t" style="left:517.50px;top:375.60px;font-size:14px;line-height:14px;font-weight:400;color:#bdbdbd;letter-spacing:0.000px;">aws</div>
<div class="t" style="left:678.20px;top:375.60px;font-size:14px;line-height:14px;font-weight:400;color:#bdbdbd;letter-spacing:0.000px;">us-east-1</div>
<div class="t" style="left:892.80px;top:375.60px;font-size:14px;line-height:14px;font-weight:400;color:#bdbdbd;letter-spacing:0.314px;">medium</div>
<div class="t" style="left:1111.01px;top:375.60px;font-size:14px;line-height:14px;font-weight:400;color:#d8404d;letter-spacing:0.000px;">63</div>
<div class="t" style="left:1167.37px;top:375.60px;font-size:14px;line-height:14px;font-weight:400;color:#bdbdbd;letter-spacing:0.000px;">$1,464</div>
<div class="t" style="left:1250.64px;top:375.60px;font-size:14px;line-height:14px;font-weight:400;color:#dcb555;letter-spacing:0.000px;">$743</div>
<div class="t" style="left:1319.44px;top:375.60px;font-size:14px;line-height:14px;font-weight:400;color:#bdbdbd;letter-spacing:0.000px;">$186</div>
<div class="t" style="left:1391.64px;top:375.60px;font-size:14px;line-height:14px;font-weight:400;color:#bdbdbd;letter-spacing:0.000px;">163kg</div>
<div class="t" style="left:101.50px;top:407.60px;font-size:14px;line-height:14px;font-weight:400;color:#bdbdbd;letter-spacing:0.000px;">gcp-prod</div>
<div class="t" style="left:517.50px;top:407.60px;font-size:14px;line-height:14px;font-weight:400;color:#bdbdbd;letter-spacing:0.000px;">gcp</div>
<div class="t" style="left:678.20px;top:407.60px;font-size:14px;line-height:14px;font-weight:400;color:#bdbdbd;letter-spacing:0.000px;">us-east1</div>
<div class="t" style="left:892.80px;top:407.60px;font-size:14px;line-height:14px;font-weight:400;color:#bdbdbd;letter-spacing:0.314px;">medium</div>
<div class="t" style="left:1118.80px;top:407.60px;font-size:14px;line-height:14px;font-weight:400;color:#d8404d;letter-spacing:0.000px;">4</div>
<div class="t" style="left:1186.83px;top:407.60px;font-size:14px;line-height:14px;font-weight:400;color:#bdbdbd;letter-spacing:0.000px;">$12</div>
<div class="t" style="left:1254.54px;top:407.60px;font-size:14px;line-height:14px;font-weight:400;color:#dcb555;letter-spacing:0.000px;">$4.4</div>
<div class="t" style="left:1323.34px;top:407.60px;font-size:14px;line-height:14px;font-weight:400;color:#bdbdbd;letter-spacing:0.000px;">$3.7</div>
<div class="t" style="left:1407.21px;top:407.60px;font-size:14px;line-height:14px;font-weight:400;color:#bdbdbd;letter-spacing:0.000px;">1kg</div>
<div class="t" style="left:101.50px;top:439.60px;font-size:14px;line-height:14px;font-weight:400;color:#bdbdbd;letter-spacing:0.000px;">azure-prod</div>
<div class="t" style="left:517.50px;top:439.60px;font-size:14px;line-height:14px;font-weight:400;color:#bdbdbd;letter-spacing:0.000px;">azure</div>
<div class="t" style="left:678.20px;top:439.60px;font-size:14px;line-height:14px;font-weight:400;color:#bdbdbd;letter-spacing:0.000px;">eastus</div>
<div class="t" style="left:892.80px;top:439.60px;font-size:14px;line-height:14px;font-weight:400;color:#bdbdbd;letter-spacing:0.314px;">medium</div>
<div class="t" style="left:1118.80px;top:439.60px;font-size:14px;line-height:14px;font-weight:400;color:#bdbdbd;letter-spacing:0.000px;">0</div>
<div class="t" style="left:1182.94px;top:439.60px;font-size:14px;line-height:14px;font-weight:400;color:#bdbdbd;letter-spacing:0.000px;">$4.1</div>
<div class="t" style="left:1254.54px;top:439.60px;font-size:14px;line-height:14px;font-weight:400;color:#dcb555;letter-spacing:0.000px;">$0.7</div>
<div class="t" style="left:1323.34px;top:439.60px;font-size:14px;line-height:14px;font-weight:400;color:#bdbdbd;letter-spacing:0.000px;">$3.2</div>
<div class="t" style="left:1407.21px;top:439.60px;font-size:14px;line-height:14px;font-weight:400;color:#bdbdbd;letter-spacing:0.000px;">1kg</div>
<div class="t" style="left:8.75px;top:122.84px;font-size:9.6px;line-height:9.6px;font-weight:700;color:#f4f4f4;letter-spacing:-0.329px;">Overview</div>
<div class="t" style="left:16.00px;top:183.74px;font-size:9.6px;line-height:9.6px;font-weight:400;color:#cfcfcf;letter-spacing:0.307px;-webkit-text-stroke:0.3px #cfcfcf;">Podfit</div>
<div class="t" style="left:14.50px;top:241.74px;font-size:9.6px;line-height:9.6px;font-weight:400;color:#cfcfcf;letter-spacing:0.344px;-webkit-text-stroke:0.3px #cfcfcf;">Infrafit</div>
<div class="t" style="left:14.50px;top:301.34px;font-size:9.6px;line-height:9.6px;font-weight:400;color:#cfcfcf;letter-spacing:-0.061px;-webkit-text-stroke:0.3px #cfcfcf;">Trends</div>
<div class="t" style="left:16.00px;top:361.54px;font-size:9.6px;line-height:9.6px;font-weight:400;color:#cfcfcf;letter-spacing:0.335px;-webkit-text-stroke:0.3px #cfcfcf;">Alerts</div>
<div class="t" style="left:10.85px;top:421.74px;font-size:9.6px;line-height:9.6px;font-weight:400;color:#cfcfcf;letter-spacing:0.262px;-webkit-text-stroke:0.3px #cfcfcf;">Settings</div>
</body></html>
